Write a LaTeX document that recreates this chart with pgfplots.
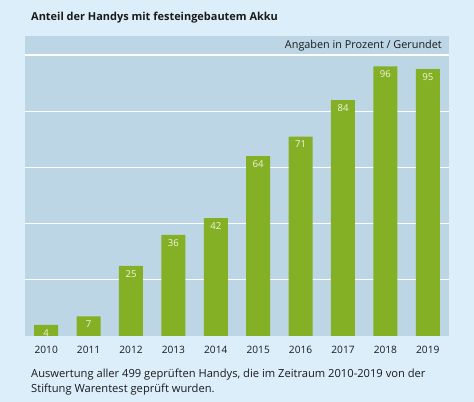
\documentclass[border=0pt]{standalone}
\usepackage{fontspec}
\setmainfont{Open Sans}
\usepackage{pgfplots}
\pgfplotsset{compat=1.18}
\definecolor{bgcol}{HTML}{DCEEF9}
\definecolor{plotbg}{HTML}{BCD6E5}
\definecolor{barcol}{HTML}{84B026}
\definecolor{labcol}{HTML}{F2F5E0}
\definecolor{txtcol}{HTML}{1A1A1A}
\begin{document}
\begin{tikzpicture}
\fill[bgcol] (0,0) rectangle (474bp,402bp);
\node[anchor=base west, inner sep=0, font=\bfseries\fontsize{11}{13}\selectfont, text=txtcol] at (31bp,381bp) {Anteil der Handys mit festeingebautem Akku};
\begin{axis}[
  at={(25bp,66bp)}, anchor=south west,
  scale only axis, width=424bp, height=300bp,
  xmin=-0.5, xmax=9.5, ymin=0, ymax=106.8,
  axis line style={draw=none},
  axis background/.style={fill=plotbg},
  ybar, bar width=24bp,
  xtick={0,...,9},
  xticklabels={2010,2011,2012,2013,2014,2015,2016,2017,2018,2019},
  ytick={20,40,60,80,100}, yticklabels={},
  ymajorgrids, grid style={white, line width=1.2bp},
  major tick length=0pt,
  tick style={draw=none},
  /pgf/number format/assume math mode=true,
  xticklabel style={anchor=base, yshift=-18bp, font=\fontsize{10.2}{12}\selectfont, text=txtcol},
  nodes near coords,
  every node near coord/.append style={anchor=north, yshift=-1bp, font=\fontsize{9.6}{11}\selectfont, text=labcol},
]
\addplot[fill=barcol, draw=none] coordinates {(0,4) (1,7) (2,25) (3,36) (4,42) (5,64) (6,71) (7,84) (8,96) (9,95)};
\end{axis}
\node[anchor=base east, inner sep=0, font=\fontsize{10.9}{12}\selectfont, text=txtcol] at (442bp,353bp) {Angaben in Prozent / Gerundet};
\node[anchor=base west, inner sep=0, font=\fontsize{11.2}{12}\selectfont, text=txtcol] at (31bp,25bp) {Auswertung aller 499 geprüften Handys, die im Zeitraum 2010-2019 von der};
\node[anchor=base west, inner sep=0, font=\fontsize{11.2}{12}\selectfont, text=txtcol] at (31bp,10bp) {Stiftung Warentest geprüft wurden.};
\end{tikzpicture}
\end{document}
